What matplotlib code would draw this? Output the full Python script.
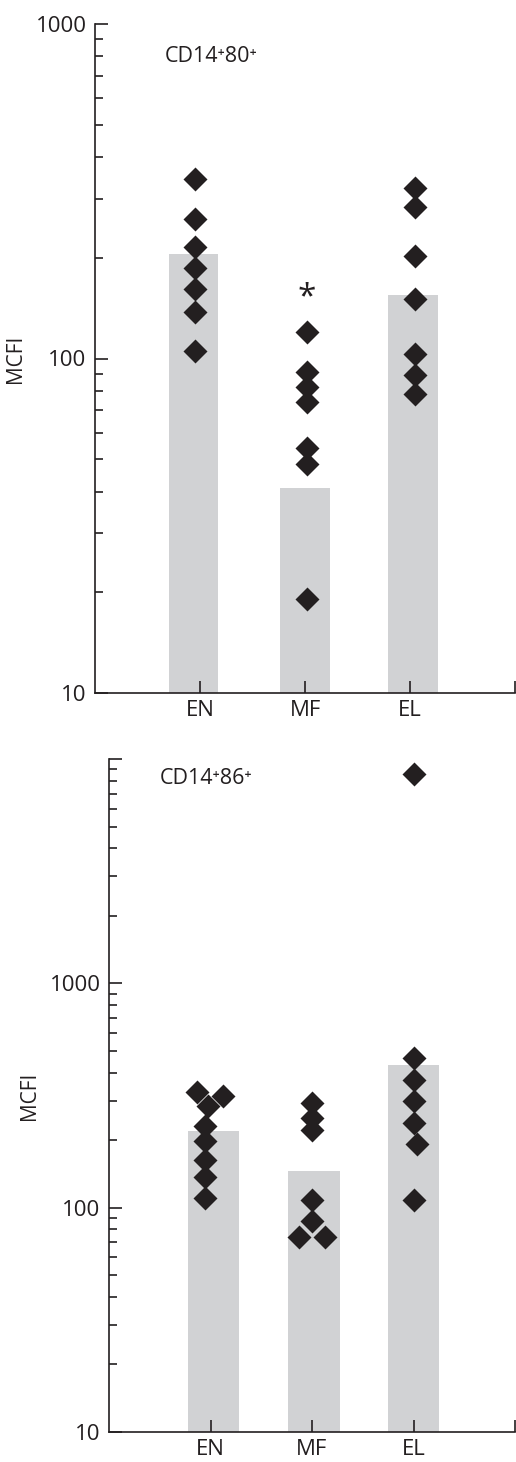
import numpy as np
import matplotlib
matplotlib.use("Agg")
import matplotlib.pyplot as plt
from matplotlib.ticker import LogLocator, FixedLocator, FixedFormatter, NullFormatter

plt.rcParams['font.family'] = ['Open Sans', 'DejaVu Sans']

INK = '#231f20'
BAR = '#d1d2d4'

categories = ['EN', 'MF', 'EL']

# panel 1: CD14+80+
cd80_means = [205, 41, 155]
cd80_points = [
    [344, 261, 215, 186, 161, 138, 105],
    [120, 91, 82, 74, 54, 48.5, 19.1],
    [323, 283, 203, 151, 103.5, 89, 78.5],
]
cd80_star = 152   # asterisk above MF

# panel 2: CD14+86+
cd86_means = [220, 146, 432]
cd86_points = [
    [328, 315, 284, 231, 199, 163, 137, 110],
    [293, 251, 222, 108.5, 87.5, 74.3, 74.3],
    [8580, 464, 371, 299, 239, 192, 108.5],
]
# horizontal jitter of the points inside a group (category units)
cd86_jitter = [
    [-0.13, 0.12, -0.02, -0.05, -0.05, -0.05, -0.05, -0.05],
    [0, 0, 0, 0, 0, -0.13, 0.13],
    [0, 0, 0, 0, 0, 0.03, 0],
]

W, H = 516, 1462
fig = plt.figure(figsize=(W / 100, H / 100), dpi=100)


def px_axes(left, top, right, bottom):
    return fig.add_axes([left / W, 1 - bottom / H, (right - left) / W, (bottom - top) / H])


def style_axis(ax, ylim, labelled):
    ax.set_yscale('log')
    ax.set_ylim(*ylim)
    ax.set_xlim(0, 4)
    for s in ['top', 'right']:
        ax.spines[s].set_visible(False)
    for s in ['left', 'bottom']:
        ax.spines[s].set_linewidth(1.2)
        ax.spines[s].set_color(INK)
    majors = [10 ** k for k in range(int(np.log10(ylim[0])), int(np.log10(ylim[1])) + 1)]
    ax.yaxis.set_major_locator(FixedLocator(majors))
    ax.yaxis.set_major_formatter(FixedFormatter([str(m) if m in labelled else '' for m in majors]))
    ax.yaxis.set_minor_locator(LogLocator(base=10, subs=np.arange(2, 10)))
    ax.yaxis.set_minor_formatter(NullFormatter())
    ax.set_xticks([1, 2, 3, 4])
    ax.set_xticklabels(categories + [''])
    ax.tick_params(axis='both', which='major', direction='in', length=9, width=1.2,
                   color=INK, labelcolor=INK, labelsize=16, pad=6)
    ax.tick_params(axis='y', which='minor', direction='in', length=5.5, width=1.2, color=INK)
    ax.tick_params(axis='x', which='major', pad=5)
    ax.set_ylabel('MCFI', fontsize=15, color=INK)


# top panel
ax1 = px_axes(95, 24, 515, 693)
bar_x1 = [0.94, 2.0, 3.03]
ax1.bar(bar_x1, cd80_means, width=0.47, color=BAR, zorder=1)
pt_x1 = [0.95, 2.02, 3.05]
for i, vals in enumerate(cd80_points):
    ax1.plot([pt_x1[i]] * len(vals), vals, linestyle='none', marker='D', ms=12.5,
             color=INK, mec='none', zorder=3)
ax1.text(pt_x1[1], cd80_star, '*', ha='center', va='center', fontsize=24, color=INK)
ax1.text(0.66, 800, 'CD14⁺80⁺', ha='left', va='center', fontsize=15.5, color=INK)
style_axis(ax1, (10, 1000), [10, 100, 1000])
ax1.yaxis.set_label_coords(-0.165, 0.5)

# bottom panel
ax2 = px_axes(109, 759, 515, 1432)
bar_x2 = [1.03, 2.02, 3.0]
ax2.bar(bar_x2, cd86_means, width=0.51, color=BAR, zorder=1)
pt_x2 = [1.0, 2.0, 3.0]
for i, vals in enumerate(cd86_points):
    xs = [pt_x2[i] + d for d in cd86_jitter[i]]
    ax2.plot(xs, vals, linestyle='none', marker='D', ms=12.5,
             color=INK, mec='none', zorder=3)
ax2.text(0.5, 8150, 'CD14⁺86⁺', ha='left', va='center', fontsize=15.5, color=INK)
style_axis(ax2, (10, 10000), [10, 100, 1000])
ax2.yaxis.set_label_coords(-0.17, 0.5)

fig.savefig('out.png', dpi=100)
